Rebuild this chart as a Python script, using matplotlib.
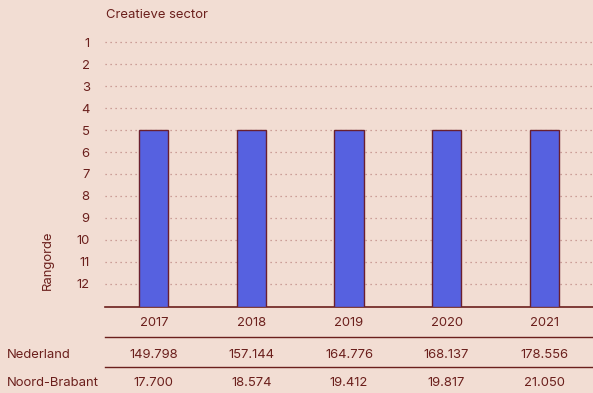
import matplotlib
matplotlib.use("Agg")
import matplotlib.pyplot as plt
from matplotlib.transforms import blended_transform_factory

years = ["2017", "2018", "2019", "2020", "2021"]
rank = [5, 5, 5, 5, 5]
nederland = ["149.798", "157.144", "164.776", "168.137", "178.556"]
noord_brabant = ["17.700", "18.574", "19.412", "19.817", "21.050"]
rank_ticks = list(range(1, 13))

bg = "#F2DDD3"
txt = "#6B1F1C"
bar_color = "#5661E0"
fs = 9.4

plt.rcParams["font.family"] = ["Inter", "DejaVu Sans"]

fig = plt.figure(figsize=(5.93, 3.93), dpi=100, facecolor=bg)
ax = fig.add_axes([105 / 593, 1 - 307 / 393, 488 / 593, 277 / 393])
ax.set_facecolor(bg)

base = 13.05
x = list(range(len(years)))
ax.bar(x, [base - r for r in rank], bottom=rank, width=0.3,
       color=bar_color, edgecolor="#6A1F2E", linewidth=1.0, zorder=3)

ax.set_xlim(-0.5, len(years) - 0.5)
ax.set_ylim(base, 0.45)
ax.set_yticks(rank_ticks)
ax.set_yticklabels([str(t) for t in rank_ticks])
ax.set_xticks([])
ax.tick_params(axis="y", length=0, pad=11, labelsize=fs, labelcolor=txt)
ax.yaxis.grid(True, linestyle=(0, (1, 3)), color="#C08A85", linewidth=0.9)
ax.set_axisbelow(True)
for s in ["top", "right", "left"]:
    ax.spines[s].set_visible(False)
ax.spines["bottom"].set_color(txt)
ax.spines["bottom"].set_linewidth(1.2)

ax.set_ylabel("Rangorde", color=txt, fontsize=fs)
ax.yaxis.set_label_coords(-0.104, 0.17)
fig.text(106 / 593, 1 - 15 / 393, "Creatieve sector", color=txt, fontsize=fs,
         ha="left", va="center")

# table below the chart
tr = blended_transform_factory(ax.transData, fig.transFigure)
rows = [(1 - 323 / 393, None, years),
        (1 - 355 / 393, "Nederland", nederland),
        (1 - 383 / 393, "Noord-Brabant", noord_brabant)]
for y, label, vals in rows:
    for xi, v in zip(x, vals):
        ax.text(xi, y, v, transform=tr, ha="center", va="center",
                color=txt, fontsize=fs, clip_on=False)
    if label:
        fig.text(7 / 593, y, label, color=txt, fontsize=fs, ha="left", va="center")

for yl in [1 - 337 / 393, 1 - 367 / 393]:
    ax.plot([-0.5, len(years) - 0.5], [yl, yl], transform=tr, color=txt,
            linewidth=1.0, clip_on=False)

fig.savefig("out.png", dpi=100, facecolor=bg)
